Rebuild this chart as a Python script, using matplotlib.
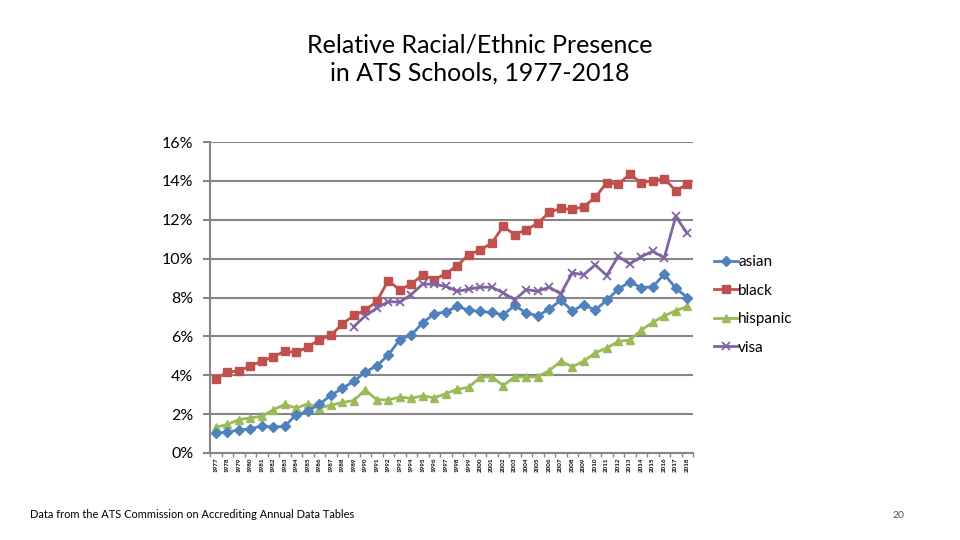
import matplotlib
matplotlib.use("Agg")
import matplotlib.pyplot as plt
import numpy as np

years = list(range(1977, 2019))

asian = [1.04, 1.06, 1.20, 1.23, 1.40, 1.33, 1.38, 1.97, 2.14, 2.51,
         2.96, 3.33, 3.68, 4.17, 4.48, 5.04, 5.83, 6.07, 6.70, 7.16,
         7.26, 7.54, 7.35, 7.28, 7.23, 7.11, 7.59, 7.20, 7.06, 7.40,
         7.86, 7.32, 7.62, 7.35, 7.86, 8.43, 8.80, 8.51, 8.55, 9.20,
         8.48, 8.00]
black = [3.79, 4.17, 4.21, 4.48, 4.72, 4.96, 5.23, 5.18, 5.45, 5.83,
         6.05, 6.63, 7.08, 7.34, 7.80, 8.87, 8.39, 8.70, 9.16, 8.92,
         9.23, 9.64, 10.21, 10.44, 10.80, 11.66, 11.23, 11.49, 11.81, 12.39,
         12.58, 12.53, 12.67, 13.15, 13.91, 13.83, 14.34, 13.91, 14.00, 14.12,
         13.49, 13.83]
hispanic = [1.32, 1.47, 1.71, 1.81, 1.88, 2.22, 2.50, 2.31, 2.53, 2.31,
            2.46, 2.60, 2.70, 3.25, 2.74, 2.74, 2.87, 2.82, 2.94, 2.84,
            3.05, 3.28, 3.38, 3.90, 3.93, 3.47, 3.93, 3.90, 3.93, 4.24,
            4.72, 4.44, 4.72, 5.16, 5.40, 5.74, 5.81, 6.32, 6.72, 7.06,
            7.32, 7.54]
visa_start = 1989
visa = [6.50, 7.06, 7.45, 7.79, 7.76, 8.15, 8.70, 8.67, 8.58, 8.32,
        8.43, 8.53, 8.53, 8.24, 7.88, 8.41, 8.32, 8.53, 8.19, 9.26,
        9.18, 9.68, 9.13, 10.12, 9.73, 10.10, 10.38, 10.04, 12.17, 11.30]

yticks = [0, 2, 4, 6, 8, 10, 12, 14, 16]
ytick_labels = [f"{v}%" for v in yticks]

title = "Relative Racial/Ethnic Presence\nin ATS Schools, 1977-2018"
footnote = "Data from the ATS Commission on Accrediting Annual Data Tables"
page_no = "20"

font = ["Lato", "DejaVu Sans"]
plt.rcParams["font.family"] = font

fig = plt.figure(figsize=(9.6, 5.4), dpi=100)
fig.patch.set_facecolor("white")
ax = fig.add_axes([210 / 960, 1 - 453 / 540, (693 - 210) / 960, (453 - 142) / 540])

x = np.arange(len(years))
vx = np.arange(years.index(visa_start), len(years))

lw = 2.0
ax.plot(x, asian, color="#4F81BD", lw=lw, marker="D", ms=5, label="asian", zorder=5)
ax.plot(x, black, color="#C0504D", lw=lw, marker="s", ms=6, label="black", zorder=4)
ax.plot(x, hispanic, color="#9BBB59", lw=lw, marker="^", ms=6, label="hispanic", zorder=3)
ax.plot(vx, visa, color="#8064A2", lw=lw, marker="x", ms=6, mew=1.3, label="visa", zorder=6)

ax.set_xlim(-0.5, len(years) - 0.5)
ax.set_ylim(0, 16)
ax.set_yticks(yticks)
ax.set_yticklabels(ytick_labels, fontsize=11.5)
ax.yaxis.grid(True, color="#868686", lw=1.5)
ax.set_axisbelow(True)

ax.set_xticks(x)
ax.set_xticklabels([str(y) for y in years], rotation=90, fontsize=4.5, fontweight="bold")
ax.set_xticks(np.arange(-0.5, len(years)), minor=True)
ax.tick_params(axis="x", which="major", length=0, pad=3)
ax.tick_params(axis="x", which="minor", length=3, color="#868686", width=1)
ax.tick_params(axis="y", length=5, color="#868686", width=1.5, pad=7)

for s in ["top", "right"]:
    ax.spines[s].set_visible(False)
ax.spines["left"].set_color("#868686")
ax.spines["left"].set_linewidth(1.5)
ax.spines["bottom"].set_color("#868686")
ax.spines["bottom"].set_linewidth(1.5)

leg = ax.legend(loc="center left", bbox_to_anchor=(1.03, 0.476), frameon=False,
                fontsize=11, handlelength=1.6, handletextpad=0.0,
                labelspacing=0.95, borderaxespad=0)

fig.text(0.5, 1 - 59 / 540, title, ha="center", va="center", fontsize=18,
         linespacing=1.3)
fig.text(30 / 960, 1 - 515 / 540, footnote, ha="left", va="center", fontsize=7.9)
fig.text(898 / 960, 1 - 515 / 540, page_no, ha="center", va="center", fontsize=7.5,
         color="#555555")

fig.savefig("out.png", dpi=100, facecolor="white")
